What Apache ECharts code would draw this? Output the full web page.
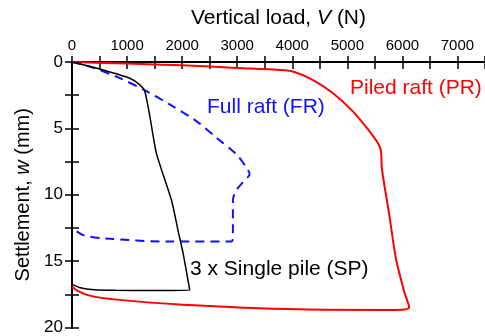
<!DOCTYPE html>
<html>
<head>
<meta charset="utf-8">
<script src="https://cdn.jsdelivr.net/npm/echarts@6/dist/echarts.min.js"></script>
<style>html,body{margin:0;padding:0;background:#fff}#c{width:485px;height:336px}</style>
</head>
<body>
<div id="c"></div>
<script>
// Vertical load V (N) and settlement w (mm)
const prLoad = [0, 1000, 2000, 3000, 3768, 4009, 4371, 4734, 5096, 5399, 5549, 5610, 5628, 5761, 5882, 6033, 6123, 5882, 4130, 2011, 810, 326, 85, 0];
const prSettle = [0, 0.12, 0.25, 0.45, 0.6, 0.72, 1.34, 2.34, 3.7, 5.2, 6.07, 6.7, 8.06, 11.5, 14.8, 17.3, 18.5, 18.68, 18.63, 18.28, 17.9, 17.6, 17.2, 16.9];

const frLoad = [0, 326, 870, 1353, 1775, 2259, 2621, 2983, 3165, 3225, 3104, 2983, 2922, 2922, 2893, 1775, 567, 205, 0];
const frSettle = [0, 0.35, 1.22, 2.2, 3.2, 4.45, 5.7, 6.94, 7.93, 8.43, 9.05, 9.68, 10.4, 13.16, 13.53, 13.53, 13.28, 13.04, 12.5];

const spLoad = [0, 567, 1050, 1232, 1322, 1413, 1534, 1806, 1926, 2017, 2138, 1500, 800, 400, 150, 0];
const spSettle = [0, 0.6, 1.22, 1.72, 2.2, 4.08, 6.9, 10.4, 12.7, 14.4, 17.2, 17.22, 17.2, 17.15, 17.0, 16.75];

const xTicks = [0, 1000, 2000, 3000, 4000, 5000, 6000, 7000];
const yTicks = [0, 5, 10, 15, 20];

const pairs = (a, b) => a.map((v, i) => [v, b[i]]);
const FONT = 'Liberation Sans, Arial, sans-serif';

const chart = echarts.init(document.getElementById('c'));
const axisLineStyle = { color: '#000', width: 2 };
const tickStyle = { color: '#000', width: 1.5 };

chart.setOption({
  backgroundColor: '#fff',
  animation: false,
  grid: { left: 72, top: 62, width: 414, height: 268, containLabel: false },
  xAxis: [
    {
      type: 'value', position: 'top', min: 0, max: 7500, interval: 500,
      name: 'Vertical load, {i|V} (N)', nameLocation: 'middle', nameGap: 33,
      nameTextStyle: { fontFamily: FONT, fontSize: 21, color: '#000', rich: { i: { fontFamily: FONT, fontSize: 21, fontStyle: 'italic', color: '#000' } } },
      axisLine: { show: true, lineStyle: axisLineStyle },
      axisTick: { show: true, inside: true, length: 7, lineStyle: tickStyle },
      axisLabel: { fontFamily: FONT, fontSize: 15, color: '#000', margin: 9, customValues: xTicks, hideOverlap: false,
        formatter: v => String(v) },
      splitLine: { show: false }
    },
    {
      type: 'value', position: 'bottom', min: 0, max: 7500, interval: 500,
      axisLine: { show: true, lineStyle: axisLineStyle },
      axisTick: { show: true, inside: true, length: 6, lineStyle: tickStyle },
      axisLabel: { show: false }, splitLine: { show: false }
    }
  ],
  yAxis: [
    {
      type: 'value', inverse: true, min: 0, max: 20, interval: 2.5,
      name: 'Settlement, {i|w} (mm)', nameLocation: 'middle', nameGap: 34,
      nameTextStyle: { fontFamily: FONT, fontSize: 20, color: '#000', rich: { i: { fontFamily: FONT, fontSize: 20, fontStyle: 'italic', color: '#000' } } },
      axisLine: { show: true, lineStyle: axisLineStyle },
      axisTick: { show: true, inside: true, length: 7, lineStyle: tickStyle },
      axisLabel: { fontFamily: FONT, fontSize: 17, color: '#000', margin: 9, customValues: yTicks,
        formatter: v => String(v) },
      splitLine: { show: false }
    },
    {
      type: 'value', inverse: true, min: 0, max: 20, interval: 2.5, position: 'right',
      axisLine: { show: true, lineStyle: axisLineStyle },
      axisTick: { show: true, inside: true, length: 7, lineStyle: tickStyle },
      axisLabel: { show: false }, splitLine: { show: false }
    }
  ],
  series: [
    { name: 'Piled raft (PR)', type: 'line', data: pairs(prLoad, prSettle), showSymbol: false, smooth: 0.3,
      lineStyle: { color: '#ff0000', width: 2 } },
    { name: 'Full raft (FR)', type: 'line', data: pairs(frLoad, frSettle), showSymbol: false, smooth: 0.3,
      lineStyle: { color: '#1010ff', width: 2, type: [9, 6] } },
    { name: '3 x Single pile (SP)', type: 'line', data: pairs(spLoad, spSettle), showSymbol: false, smooth: 0.2,
      lineStyle: { color: '#000', width: 1.5 } }
  ],
  graphic: [
    { type: 'text', left: 207, top: 97, style: { text: 'Full raft (FR)', fill: '#1010ff', font: '21px ' + FONT } },
    { type: 'text', left: 350, top: 78, style: { text: 'Piled raft (PR)', fill: '#ff0000', font: '21px ' + FONT } },
    { type: 'text', left: 190, top: 259, style: { text: '3 x Single pile (SP)', fill: '#000', font: '21px ' + FONT } }
  ]
});
</script>
</body>
</html>
